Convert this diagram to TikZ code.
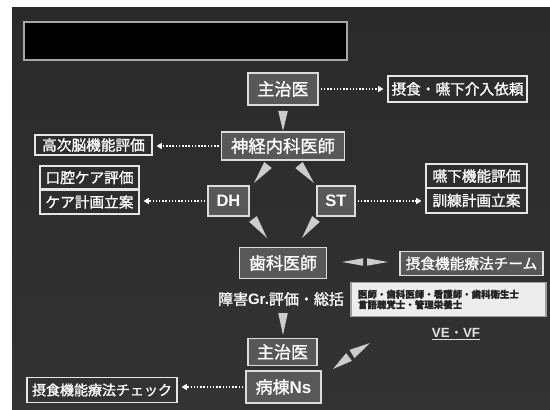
\documentclass[tikz,border=0pt]{standalone}
\usepackage{fontspec}
\setmainfont{Noto Sans CJK JP}[FakeBold=1.2]
\newfontfamily\lat{Liberation Sans}
\usetikzlibrary{arrows.meta,calc}
\definecolor{boxfill}{HTML}{585858}
\definecolor{boxline}{HTML}{DCDCDC}
\definecolor{wedgec}{HTML}{CCCCCC}
\definecolor{bgtop}{HTML}{2A2A2A}
\definecolor{bgmid}{HTML}{121212}
\definecolor{bgbot}{HTML}{333333}
\definecolor{olinec}{HTML}{E6E6E6}
\tikzset{
  gbox/.style={draw=boxline, line width=1.2pt, fill=boxfill, text=white, inner sep=0pt,
    font=\fontsize{12.75pt}{14pt}\selectfont},
  obox/.style={draw=olinec, line width=0.8pt, text=white, inner sep=0pt,
    font=\fontsize{11pt}{12pt}\selectfont},
  wh/.style 2 args={minimum width=#1*0.75pt, minimum height=#2*0.75pt},
  dotarrow/.style={draw=white, line width=1.1pt, dash pattern=on 1.1pt off 1.3pt,
    -{Triangle[length=4pt,width=4.5pt]}, shorten <=1.5pt, shorten >=3pt},
  wedgefill/.style={fill=wedgec},
}
\newcommand\wedgeto[3]{\fill[wedgefill] ($(#1)!#3!90:(#2)$) -- (#2) -- ($(#1)!#3!-90:(#2)$) -- cycle;}
\begin{document}
\begin{tikzpicture}[x=0.75pt,y=-0.75pt]
\useasboundingbox (0,0) rectangle (550,410);
\fill[white] (0,0) rectangle (550,410);
\shade[top color=bgtop, middle color=bgmid, bottom color=bgbot] (12,8) rectangle (550,410);

% title bar
\node[draw=gray!70, line width=1pt, fill=black, wh={323}{38}] (title) at (185.5,41) {};

% main boxes
\node[gbox, wh={70}{32}] (doc1) at (283,89) {主治医};
\node[obox, wh={139}{26}] (req) at (457.5,89) {摂食・嚥下介入依頼};
\node[gbox, wh={123}{28}, font=\fontsize{13pt}{14pt}\selectfont] (neuro) at (283,146) {神経内科医師};
\node[obox, wh={117}{20}] (brain) at (93.5,145) {高次脳機能評価};
\node[obox, wh={99}{23}] (oral) at (89.5,177.5) {口腔ケア評価};
\node[obox, wh={99}{24}] (careplan) at (89.5,202) {ケア計画立案};
\node[gbox, wh={41}{30}, font=\fontsize{12.4pt}{14pt}\lat\bfseries\selectfont] (dh) at (228.5,201) {DH};
\node[gbox, wh={38}{30}, font=\fontsize{12.4pt}{14pt}\lat\bfseries\selectfont] (st) at (336,201) {ST};
\node[obox, wh={101}{24}] (swallow) at (476.5,176) {嚥下機能評価};
\node[obox, wh={101}{25}] (train) at (476.5,200.5) {訓練計画立案};
\node[gbox, wh={87}{31}] (dent) at (283,263) {歯科医師};
\node[gbox, wh={143}{24}, font=\fontsize{11pt}{12pt}\selectfont] (team) at (471.5,263.5) {摂食機能療法チーム};
\node[text=white, inner sep=0pt, font=\fontsize{11.25pt}{12pt}\selectfont] (assess) at (281,299) {障害{\lat\bfseries Gr.}評価・総括};
\node[draw=gray!75, line width=1.2pt, fill=white!93!black, text=black!85, align=left,
  text width=181*0.75pt, inner xsep=7*0.75pt, inner ysep=0pt, wh={195}{34},
  font=\fontsize{7.1pt}{7.8pt}\selectfont\bfseries] (members) at (448.5,299.5)
  {医師・歯科医師・看護師・歯科衛生士\\言語聴覚士・管理栄養士};
\node[text=white!88!black, inner sep=0pt, font=\fontsize{10pt}{11pt}\selectfont] (vevf) at (456,334)
  {\underline{{\lat\bfseries VE}・{\lat\bfseries VF}}};
\node[gbox, wh={69}{27}] (doc2) at (282.5,352) {主治医};
\node[gbox, wh={75}{32}] (ward) at (283.5,387) {病棟{\lat\bfseries Ns}};
\node[obox, wh={150}{25}, font=\fontsize{10.5pt}{12pt}\selectfont] (check) at (102,390) {摂食機能療法チェック};

% dotted arrows
\draw[dotarrow] (doc1.east) -- (req.west);
\draw[dotarrow] (neuro.west) -- (neuro.west -| brain.east);
\draw[dotarrow] (dh.west) -- (dh.west -| careplan.east);
\draw[dotarrow] (st.east) -- (st.east -| train.west);
\draw[dotarrow] (ward.west) -- (ward.west -| check.east);

% wedge arrows
\coordinate (w1a) at (283,111); \coordinate (w1b) at (283,131);
\wedgeto{w1a}{w1b}{3.6pt}
\coordinate (w2a) at (268,165); \coordinate (w2b) at (254,183);
\wedgeto{w2a}{w2b}{3.6pt}
\coordinate (w3a) at (299,165); \coordinate (w3b) at (314,183);
\wedgeto{w3a}{w3b}{3.6pt}
\coordinate (w4a) at (253,219); \coordinate (w4b) at (267,238);
\wedgeto{w4a}{w4b}{3.6pt}
\coordinate (w5a) at (316,219); \coordinate (w5b) at (302,238);
\wedgeto{w5a}{w5b}{3.6pt}
\coordinate (w6a) at (283,313); \coordinate (w6b) at (283,335);
\wedgeto{w6a}{w6b}{3.6pt}
% double horizontal
\coordinate (h1a) at (363,262); \coordinate (h1b) at (342,262);
\wedgeto{h1a}{h1b}{2.8pt}
\coordinate (h2a) at (367,262); \coordinate (h2b) at (388,262);
\wedgeto{h2a}{h2b}{2.8pt}
% double diagonal
\coordinate (d1a) at (349,357); \coordinate (d1b) at (333,369);
\wedgeto{d1a}{d1b}{3.6pt}
\coordinate (d2a) at (352,354); \coordinate (d2b) at (370,343);
\wedgeto{d2a}{d2b}{3.6pt}
\end{tikzpicture}
\end{document}
